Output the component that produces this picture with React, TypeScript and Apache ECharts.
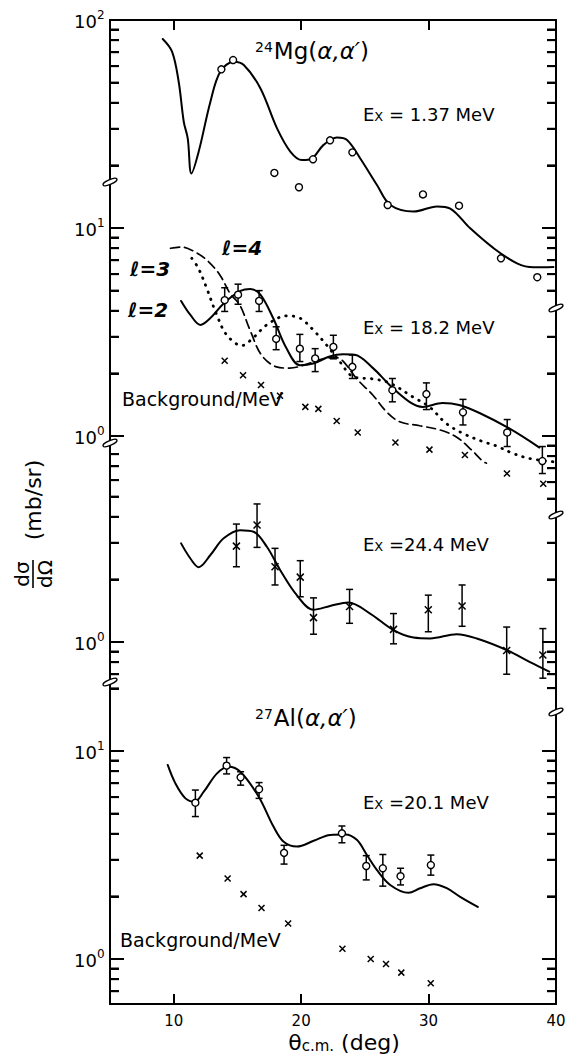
import React, { useEffect, useRef } from "react";
import * as echarts from "echarts";

const FONT = '"DejaVu Sans", "Liberation Sans", Arial, sans-serif';

const xTickValues = [10, 20, 30];
const xLabelValues = [10, 20, 30, 40];

const s1LeftTicks = [90, 80, 70, 60, 50, 40, 30, 20, 10, 9, 8, 7, 6, 5, 4, 3, 2, 1];
const s1RightTicks = [90, 80, 70, 60, 50, 40, 30, 20, 10, 9, 8, 7, 6, 5, 3, 2, 1, 0.9, 0.8, 0.7, 0.6, 0.5];
const s2LeftTicks = [8, 7, 6, 5, 4, 3, 2, 1, 0.9, 0.8, 0.7];
const s2RightTicks = [3, 2, 1, 0.9, 0.8, 0.7, 0.6];
const s3LeftTicks = [20, 10, 9, 8, 7, 6, 5, 4, 3, 2, 1, 0.9, 0.8, 0.7];
const s3RightTicks = [10, 9, 8, 7, 6, 5, 4, 3, 2, 1, 0.9, 0.8, 0.7];
const s1Labels = [100, 10, 1];
const s2Labels = [1];
const s3Labels = [10, 1];

const mg137Curve = [
  [9.14, 81], [9.87, 70.4], [10.39, 50.5], [10.79, 32.4], [11.1, 27], [11.39, 18.3], [11.96, 23.3],
  [12.88, 40.5], [13.66, 56.5], [14.71, 63], [15.5, 60.8], [16.8, 47], [18.1, 30.2], [19.15, 23.3],
  [20.07, 21.2], [20.85, 21.6], [21.76, 25.1], [22.81, 27.2], [23.6, 26.5], [24.64, 21.6], [25.95, 16.1],
  [27.0, 12.9], [28.83, 12], [30.66, 12.7], [31.7, 12.4], [33.27, 9.96], [35.1, 8.0], [36.94, 6.76],
  [38.24, 6.47], [39.8, 6.5],
];
const mg137Points = [
  [13.74, 57.9], [14.66, 64.2], [17.9, 18.4], [19.83, 15.7], [20.93, 21.4], [22.27, 26.4],
  [24.02, 23.1], [26.79, 12.9], [29.56, 14.5], [32.39, 12.8], [35.68, 7.15], [38.53, 5.8],
];

const mg182Sum = [
  [10.58, 4.46], [11.31, 3.82], [12.09, 3.42], [12.88, 3.69], [13.92, 4.34], [15.24, 4.98], [16.0, 5.09],
  [16.8, 4.78], [17.8, 3.69], [18.85, 2.64], [19.9, 2.19], [20.94, 2.23], [22.24, 2.41], [23.29, 2.47],
  [24.2, 2.46], [25.64, 2.12], [26.94, 1.76], [28.5, 1.46], [29.55, 1.38], [31.1, 1.44], [32.4, 1.41],
  [34.0, 1.29], [36.3, 1.09], [38.7, 0.88],
];
const mg182Dashed = [
  [9.75, 7.99], [10.63, 8.1], [11.54, 7.75], [12.59, 7.02], [13.62, 5.95], [14.41, 4.86], [15.19, 4.26],
  [15.98, 3.24], [16.89, 2.45], [18.07, 2.15], [19.1, 2.12], [20.41, 2.21], [21.72, 2.35], [22.77, 2.38],
  [23.29, 2.29], [24.34, 1.89], [25.64, 1.57], [26.69, 1.31], [27.74, 1.17], [29.31, 1.12], [30.88, 1.07],
  [32.18, 0.99], [33.23, 0.873], [34.28, 0.754], [34.54, 0.74],
];
const mg182Dotted = [
  [11.42, 7.15], [11.94, 6.4], [12.59, 5.13], [13.38, 3.82], [14.16, 3.06], [15.34, 2.72], [16.25, 2.97],
  [17.3, 3.42], [18.85, 3.78], [19.9, 3.69], [20.94, 3.24], [21.99, 2.74], [23.03, 2.28], [24.08, 1.93],
  [25.64, 1.88], [26.94, 1.8], [28.77, 1.54], [30.07, 1.38], [31.38, 1.15], [32.69, 1.03], [34.25, 0.94],
  [35.3, 0.897], [36.6, 0.826], [37.91, 0.78], [39.95, 0.75],
];
const mg182Points = [
  [14.0, 4.5, 3.97, 5.16], [15.05, 4.78, 4.3, 5.37], [16.7, 4.46, 3.97, 5.0], [18.04, 2.93, 2.6, 3.35],
  [19.9, 2.63, 2.28, 3.08], [21.1, 2.36, 2.04, 2.63], [22.53, 2.68, 2.35, 3.05], [24.02, 2.15, 1.89, 2.45],
  [27.16, 1.66, 1.46, 1.89], [29.83, 1.59, 1.34, 1.8], [32.7, 1.3, 1.13, 1.5], [36.17, 1.04, 0.89, 1.2],
  [38.93, 0.758, 0.66, 0.89],
];
const mg182Background = [
  [14.0, 2.3], [15.44, 1.96], [16.85, 1.76], [18.34, 1.56], [20.33, 1.38], [21.35, 1.35], [22.79, 1.18],
  [24.44, 1.04], [27.4, 0.93], [30.07, 0.86], [32.85, 0.81], [36.15, 0.66], [39.0, 0.59],
];

const mg244Curve = [
  [10.58, 2.98], [11.31, 2.52], [11.96, 2.29], [12.88, 2.62], [13.92, 3.15], [15.22, 3.45], [16.27, 3.39],
  [17.31, 2.87], [18.35, 2.22], [19.66, 1.68], [20.97, 1.43], [22.27, 1.49], [23.7, 1.55], [25.41, 1.37],
  [27.25, 1.14], [28.81, 1.05], [30.12, 1.04], [32.21, 1.09], [33.78, 1.04], [36.13, 0.915], [37.96, 0.8],
  [39.47, 0.72],
];
const mg244Points = [
  [14.92, 2.89, 2.3, 3.69], [16.54, 3.65, 2.85, 4.61], [17.95, 2.3, 1.88, 2.82], [19.93, 2.05, 1.65, 2.46],
  [20.97, 1.31, 1.09, 1.63], [23.8, 1.48, 1.23, 1.79], [27.25, 1.15, 0.98, 1.37], [29.98, 1.43, 1.12, 1.68],
  [32.63, 1.49, 1.19, 1.88], [36.13, 0.91, 0.7, 1.18], [38.97, 0.866, 0.67, 1.16],
];

const al201Curve = [
  [9.53, 8.57], [10.13, 6.99], [10.92, 5.92], [11.63, 5.7], [12.36, 6.37], [13.4, 7.81], [14.31, 8.41],
  [15.23, 7.95], [16.67, 6.03], [17.84, 4.32], [18.63, 3.66], [19.67, 3.47], [20.98, 3.7], [22.28, 3.95],
  [23.46, 3.97], [24.37, 3.74], [25.16, 3.16], [25.94, 2.68], [26.99, 2.27], [28.42, 2.08], [29.34, 2.19],
  [30.39, 2.29], [31.43, 2.19], [32.48, 1.99], [33.86, 1.78],
];
const al201Points = [
  [11.7, 5.64, 4.84, 6.49], [14.15, 8.5, 7.76, 9.3], [15.25, 7.47, 6.85, 7.95], [16.7, 6.55, 5.92, 7.05],
  [18.66, 3.24, 2.86, 3.52], [23.2, 4.02, 3.62, 4.36], [25.11, 2.8, 2.4, 3.14], [26.41, 2.73, 2.24, 3.18],
  [27.8, 2.5, 2.27, 2.73], [30.18, 2.83, 2.53, 3.16],
];
const al201Background = [
  [12.04, 3.14], [14.23, 2.44], [15.48, 2.05], [16.89, 1.76], [18.98, 1.48], [23.24, 1.12], [25.46, 1.0],
  [26.66, 0.946], [27.86, 0.86], [30.17, 0.764],
];

const GRID_LEFT = 110;
const GRID_TOP = 20;
const GRID_W = 446;
const GRID_H = 984;
const DECADE = 208;
const ANCHORS = [436, 642, 959];
const X_MIN = 5;
const X_MAX = 40;
const BLACK = "#000";

const log10 = (v: number) => Math.log(v) / Math.LN10;

function logExtent(anchor: number) {
  return {
    min: Math.pow(10, -(GRID_TOP + GRID_H - anchor) / DECADE),
    max: Math.pow(10, (anchor - GRID_TOP) / DECADE),
  };
}

const isDecade = (v: number) => {
  const lg = log10(v);
  return Math.abs(lg - Math.round(lg)) < 1e-6;
};

const curve = (data: number[][], yIdx: number, lineType: any = "solid", width = 2) => ({
  type: "line",
  xAxisIndex: 0,
  yAxisIndex: yIdx,
  data,
  smooth: 0.35,
  showSymbol: false,
  silent: true,
  lineStyle: { color: BLACK, width, type: lineType, cap: "round" },
  z: 2,
});

const renderErr = (_p: any, api: any) => {
  const x = api.value(0);
  const lo = api.coord([x, api.value(2)]);
  const hi = api.coord([x, api.value(3)]);
  const cap = 3.5;
  const style = { stroke: BLACK, lineWidth: 1.5 };
  return {
    type: "group",
    children: [
      { type: "line", shape: { x1: lo[0], y1: lo[1], x2: hi[0], y2: hi[1] }, style },
      { type: "line", shape: { x1: lo[0] - cap, y1: lo[1], x2: lo[0] + cap, y2: lo[1] }, style },
      { type: "line", shape: { x1: hi[0] - cap, y1: hi[1], x2: hi[0] + cap, y2: hi[1] }, style },
    ],
  };
};

const errBars = (data: number[][], yIdx: number) => ({
  type: "custom",
  xAxisIndex: 0,
  yAxisIndex: yIdx,
  data,
  encode: { x: 0, y: [1, 2, 3] },
  renderItem: renderErr,
  silent: true,
  z: 3,
});

const circles = (data: number[][], yIdx: number) => ({
  type: "scatter",
  xAxisIndex: 0,
  yAxisIndex: yIdx,
  data,
  encode: { x: 0, y: 1 },
  symbol: "circle",
  symbolSize: 7,
  silent: true,
  itemStyle: { color: "#fff", borderColor: BLACK, borderWidth: 1.4, opacity: 1 },
  z: 4,
});

const crosses = (data: number[][], yIdx: number, size = 7) => ({
  type: "scatter",
  xAxisIndex: 0,
  yAxisIndex: yIdx,
  data,
  encode: { x: 0, y: 1 },
  symbol: "path://M0 0L10 10M10 0L0 10",
  symbolSize: size,
  silent: true,
  itemStyle: { color: BLACK, borderColor: BLACK, borderWidth: 1.5, opacity: 1 },
  z: 4,
});

// Labels and tick marks of the y scales, positioned through each log scale.
// Each row: [ xEdge, value, side (+1 left / -1 right), kind (0 tick / 1 label) ]
const axisFurniture = (left: number[], right: number[], labels: number[], yIdx: number) => ({
  type: "custom",
  xAxisIndex: 0,
  yAxisIndex: yIdx,
  silent: true,
  clip: false,
  data: labels
    .map((v) => [X_MIN, v, 1, 1])
    .concat(left.map((v) => [X_MIN + 0.0001, v, 1, 0]))
    .concat(right.map((v) => [X_MAX - 0.0001, v, -1, 0])),
  encode: { x: 0, y: 1 },
  renderItem: (_p: any, api: any) => {
    const xv = api.value(0);
    const v = api.value(1);
    const side = api.value(2);
    const kind = api.value(3);
    const p = api.coord([xv, v]);
    if (kind === 1) {
      const exp = Math.round(log10(v));
      return {
        type: "group",
        children: [
          {
            type: "text",
            x: p[0] - 13,
            y: p[1] + 1,
            style: { text: "10", fontSize: 18, fontFamily: FONT, fill: BLACK, align: "right", verticalAlign: "middle" },
          },
          {
            type: "text",
            x: p[0] - 13,
            y: p[1] - 5,
            style: { text: String(exp), fontSize: 12, fontFamily: FONT, fill: BLACK, align: "left", verticalAlign: "middle" },
          },
        ],
      };
    }
    const len = isDecade(v) ? 14 : 9;
    return {
      type: "line",
      shape: { x1: p[0], y1: p[1], x2: p[0] + side * len, y2: p[1] },
      style: { stroke: BLACK, lineWidth: 2 },
    };
  },
  z: 6,
});

const subRich = (big: number, small: number, shift: number) => ({
  b: { fontSize: big, fontFamily: FONT, lineHeight: big, verticalAlign: "top", fill: BLACK },
  s: { fontSize: small, fontFamily: FONT, lineHeight: small, padding: [shift, 0, 0, 0], verticalAlign: "bottom", fill: BLACK },
});

const supRich = (big: number, small: number, shift: number) => ({
  b: { fontSize: big, fontFamily: FONT, lineHeight: big, verticalAlign: "bottom", fill: BLACK },
  i: { fontSize: big, fontFamily: FONT, fontStyle: "italic", lineHeight: big, verticalAlign: "bottom", fill: BLACK },
  s: { fontSize: small, fontFamily: FONT, lineHeight: small, padding: [0, 1, shift, 0], verticalAlign: "top", fill: BLACK },
});

const exLabel = (value: string, x: number, y: number) => ({
  type: "text",
  x,
  y,
  silent: true,
  style: {
    text: "{b|E}{s|X}{b|" + value + "}",
    rich: subRich(18, 13, 9),
    fill: BLACK,
    align: "left",
    verticalAlign: "middle",
  },
});

const plainText = (text: string, x: number, y: number, size: number, extra: any = {}) => ({
  type: "text",
  x,
  y,
  silent: true,
  style: { text, fontSize: size, fontFamily: FONT, fill: BLACK, align: "left", verticalAlign: "middle", ...extra },
});

const reactionLabel = (mass: string, body: string, x: number, y: number) => ({
  type: "text",
  x,
  y,
  silent: true,
  style: {
    text: "{s|" + mass + "}{b|" + body + "(}{i|α,α′}{b|)}",
    rich: supRich(23, 14, 12),
    fill: BLACK,
    align: "left",
    verticalAlign: "middle",
  },
});

const breakMark = (x: number, y: number) => ({
  type: "ellipse",
  x,
  y,
  rotation: 0.4,
  silent: true,
  shape: { cx: 0, cy: 0, rx: 7.5, ry: 2.4 },
  style: { fill: "#fff", stroke: BLACK, lineWidth: 1.4 },
  z: 10,
});

// Extra (series-less) value axes in log10 space that also draw the tick marks
const tickAxes = () => {
  const specs = [
    { left: s1LeftTicks, right: s1RightTicks, anchor: ANCHORS[0] },
    { left: s2LeftTicks, right: s2RightTicks, anchor: ANCHORS[1] },
    { left: s3LeftTicks, right: s3RightTicks, anchor: ANCHORS[2] },
  ];
  const axes: any[] = [];
  specs.forEach((s) => {
    const ext = logExtent(s.anchor);
    const sides: [string, number[]][] = [["left", s.left], ["right", s.right]];
    sides.forEach(([pos, vals]) => {
      [false, true].forEach((major) => {
        const sel = vals.filter((v) => isDecade(v) === major).map(log10);
        axes.push({
          type: "value",
          min: log10(ext.min),
          max: log10(ext.max),
          position: pos,
          offset: 0,
          axisLine: { show: false },
          axisLabel: { show: false },
          splitLine: { show: false },
          axisTick: {
            show: true,
            inside: true,
            length: major ? 14 : 9,
            customValues: sel,
            lineStyle: { color: BLACK, width: 2 },
          },
        });
      });
    });
  });
  return axes;
};

export default function App() {
  const ref = useRef<HTMLDivElement>(null);

  useEffect(() => {
    if (!ref.current) return;
    const chart = echarts.init(ref.current, null, { renderer: "svg" });
    const axisLine = { show: true, onZero: false, lineStyle: { color: BLACK, width: 2 } };

    const dataAxes = ANCHORS.map((a, i) => {
      const ext = logExtent(a);
      return {
        type: "log",
        logBase: 10,
        min: ext.min,
        max: ext.max,
        show: i !== 2,
        position: i === 1 ? "right" : "left",
        axisLine,
        axisTick: { show: false },
        axisLabel: { show: false },
        splitLine: { show: false },
        minorTick: { show: false },
      };
    });

    const option: any = {
      animation: false,
      backgroundColor: "#fff",
      grid: { left: GRID_LEFT, top: GRID_TOP, width: GRID_W, height: GRID_H, show: false },
      xAxis: [
        {
          type: "value",
          min: X_MIN,
          max: X_MAX,
          position: "bottom",
          axisLine,
          axisTick: { show: true, inside: true, length: 10, customValues: xTickValues, lineStyle: { color: BLACK, width: 2 } },
          axisLabel: { show: true, customValues: xLabelValues, color: BLACK, fontSize: 15, fontFamily: FONT, margin: 9 },
          splitLine: { show: false },
        },
        {
          type: "value",
          min: X_MIN,
          max: X_MAX,
          position: "top",
          axisLine,
          axisTick: { show: true, inside: true, length: 10, customValues: xTickValues, lineStyle: { color: BLACK, width: 2 } },
          axisLabel: { show: false },
          splitLine: { show: false },
        },
      ],
      yAxis: dataAxes.concat(tickAxes()),
      series: [
        curve(mg137Curve, 0),
        circles(mg137Points, 0),
        curve(mg182Sum, 0),
        curve(mg182Dashed, 0, [9, 5], 1.7),
        curve(mg182Dotted, 0, [0.5, 7], 2.8),
        errBars(mg182Points, 0),
        circles(mg182Points, 0),
        crosses(mg182Background, 0, 6),
        curve(mg244Curve, 1),
        errBars(mg244Points, 1),
        crosses(mg244Points, 1, 7),
        curve(al201Curve, 2),
        errBars(al201Points, 2),
        circles(al201Points, 2),
        crosses(al201Background, 2, 6),
        axisFurniture(s1LeftTicks, s1RightTicks, s1Labels, 0),
        axisFurniture(s2LeftTicks, s2RightTicks, s2Labels, 1),
        axisFurniture(s3LeftTicks, s3RightTicks, s3Labels, 2),
      ],
      graphic: [
        breakMark(110, 182),
        breakMark(110, 443),
        breakMark(110, 682),
        breakMark(556, 308),
        breakMark(556, 515),
        breakMark(556, 712),
        reactionLabel("24", "Mg", 255, 51),
        exLabel(" = 1.37 MeV", 363, 114),
        plainText("ℓ=4", 222, 248, 20, { fontStyle: "italic", fontWeight: "bold" }),
        plainText("ℓ=3", 130, 269, 20, { fontStyle: "italic", fontWeight: "bold" }),
        plainText("ℓ=2", 128, 310, 20, { fontStyle: "italic", fontWeight: "bold" }),
        exLabel(" = 18.2 MeV", 363, 327),
        plainText("Background/MeV", 122, 399, 19),
        exLabel(" =24.4 MeV", 363, 544),
        reactionLabel("27", "Al", 255, 718),
        exLabel(" =20.1 MeV", 363, 802),
        plainText("Background/MeV", 120, 940, 19),
        {
          type: "text",
          x: 344,
          y: 1042,
          silent: true,
          style: {
            text: "{b|θ}{s|c.m.}{b| (deg)}",
            rich: subRich(22, 15, 9),
            fill: BLACK,
            align: "center",
            verticalAlign: "middle",
          },
        },
        {
          type: "group",
          x: 33,
          y: 574,
          rotation: Math.PI / 2,
          silent: true,
          children: [
            { type: "text", x: 0, y: -11, style: { text: "dσ", fontSize: 20, fontFamily: FONT, fill: BLACK, align: "center", verticalAlign: "middle" } },
            { type: "line", shape: { x1: -14, y1: 0, x2: 14, y2: 0 }, style: { stroke: BLACK, lineWidth: 1.6 } },
            { type: "text", x: 0, y: 12, style: { text: "dΩ", fontSize: 20, fontFamily: FONT, fill: BLACK, align: "center", verticalAlign: "middle" } },
            { type: "text", x: 74, y: 0, style: { text: "(mb/sr)", fontSize: 22, fontFamily: FONT, fill: BLACK, align: "center", verticalAlign: "middle" } },
          ],
        },
      ],
    };

    chart.setOption(option);
    return () => chart.dispose();
  }, []);

  return (
    <div
      ref={ref}
      style={{ position: "absolute", left: 0, top: 0, width: 571, height: 1059, background: "#fff" }}
    />
  );
}
